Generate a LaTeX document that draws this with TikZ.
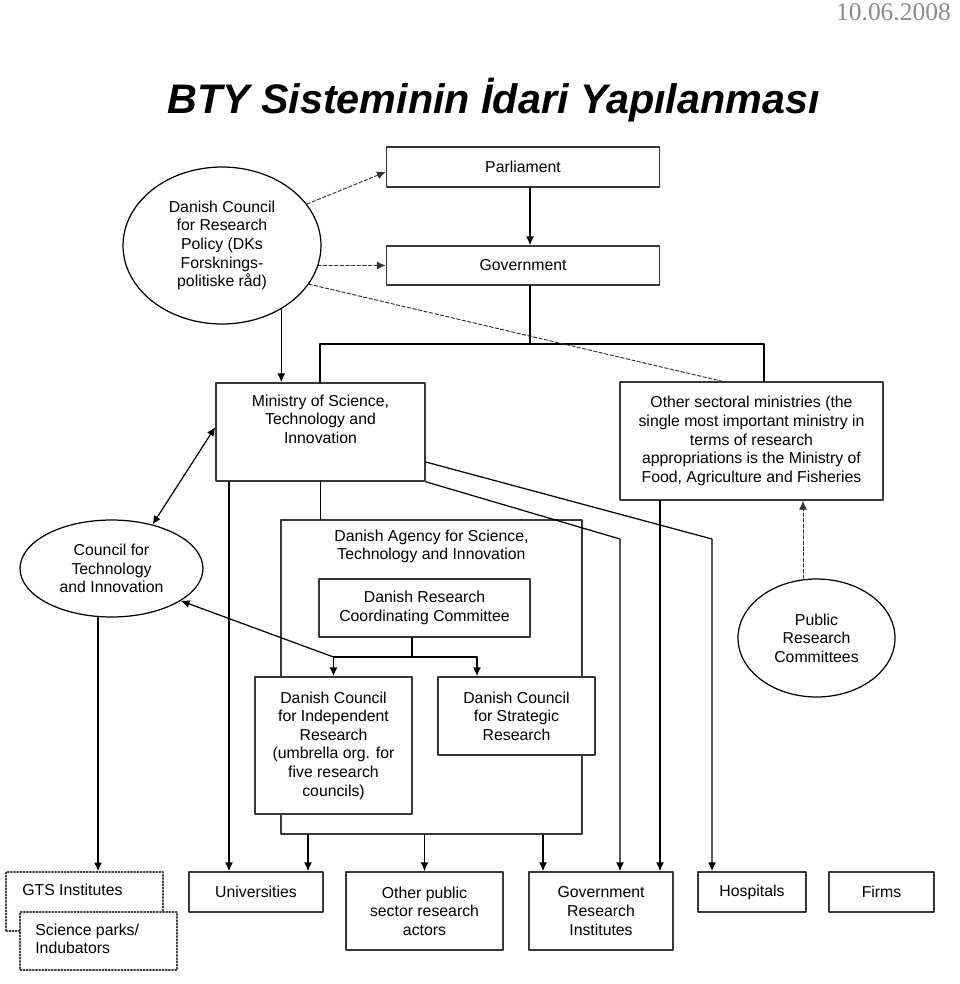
\documentclass[tikz,border=0pt]{standalone}
\usepackage{fontspec}
\setmainfont{Liberation Sans}
\newfontfamily\datefont{Liberation Serif}
\usetikzlibrary{arrows.meta,shapes.geometric,positioning}
\definecolor{boxline}{gray}{0.22}
\definecolor{dategray}{gray}{0.55}
\tikzset{
  box/.style={draw=boxline, line width=0.9pt, fill=white, inner sep=0pt, align=center,
    font=\fontsize{9}{10.6}\selectfont},
  dotbox/.style={box, draw=black!75, line width=0.8pt, densely dotted},
  oval/.style={ellipse, draw=black, line width=0.7pt, fill=white, inner sep=0pt, align=center,
    font=\fontsize{9}{10.6}\selectfont},
  txt/.style={inner sep=0pt, align=center, font=\fontsize{9}{10.6}\selectfont},
  link/.style={line width=0.7pt},
  arr/.style={link, -{Latex[length=5pt,width=4.5pt]}},
  back/.style={link, {Latex[length=5pt,width=4.5pt]}-},
  darr/.style={link, {Latex[length=5pt,width=4.5pt]}-{Latex[length=5pt,width=4.5pt]}},
  hint/.style={line width=0.55pt, dash pattern=on 2pt off 1.2pt, draw=black!80}
}
\begin{document}
\begin{tikzpicture}[x=0.02cm, y=-0.02cm, line cap=round, line join=round]
  \useasboundingbox (0,0) rectangle (960,984);
  \node[anchor=base west, font=\fontsize{23.5}{28}\selectfont\bfseries\itshape] (title) at (161,113)
    {BTY Sisteminin İdari Yapılanması};
  \node[anchor=base east, text=dategray, font=\datefont\fontsize{14.5}{16}\selectfont] (date) at (957,20) {10.06.2008};

  \node[box, minimum width=5.46cm, minimum height=0.8cm] (parl) at (523,167) {Parliament};
  \node[box, minimum width=5.46cm, minimum height=0.78cm] (gov) at (523,265.5) {Government};
  \node[oval, minimum width=3.96cm, minimum height=3.14cm] (dcrp) at (222,245.5)
    {Danish Council\\for Research\\Policy (DKs\\Forsknings-\\politiske råd)};
  \node[box, minimum width=4.18cm, minimum height=1.96cm] (min) at (320.5,432) {};
  \node[txt] (min-txt) at (320.5,419) {Ministry of Science,\\Technology and\\Innovation};
  \node[box, minimum width=5.26cm, minimum height=2.36cm] (oth) at (751.5,441)
    {Other sectoral ministries (the\\single most important ministry in\\terms of research\\appropriations is the Ministry of\\Food, Agriculture and Fisheries};
  \node[oval, minimum width=3.66cm, minimum height=1.94cm] (cti) at (111.5,568.5)
    {Council for\\Technology\\and Innovation};
  \node[oval, minimum width=3.14cm, minimum height=2.36cm] (prc) at (816.5,638)
    {Public\\Research\\Committees};

  \node[box, minimum width=6.02cm, minimum height=6.28cm] (agc) at (431.5,677) {};
  \node[txt] (agc-txt) at (431.5,546.5) {Danish Agency for Science,\\Technology and Innovation};
  \node[box, minimum width=4.22cm, minimum height=1.16cm] (drcc) at (424.5,608)
    {Danish Research\\Coordinating Committee};
  \node[box, minimum width=3.14cm, minimum height=2.74cm] (dcir) at (333.5,745.5)
    {Danish Council\\for Independent\\Research\\(umbrella org. for\\five research\\councils)};
  \node[box, minimum width=3.14cm, minimum height=1.56cm] (dcsr) at (516.5,716)
    {Danish Council\\for Strategic\\Research};

  \node[dotbox, minimum width=3.14cm, minimum height=1.18cm] (gts) at (84.5,901.5) {};
  \node[txt, anchor=west] (gts-txt) at (22,890) {GTS Institutes};
  \node[dotbox, minimum width=3.14cm, minimum height=1.16cm] (sci) at (98.5,941) {};
  \node[txt, anchor=west, align=left] (sci-txt) at (35,939) {Science parks/\\Indubators};
  \node[box, minimum width=2.68cm, minimum height=0.8cm] (uni) at (256,892) {Universities};
  \node[box, minimum width=3.14cm, minimum height=1.56cm] (opa) at (424.5,911)
    {Other public\\sector research\\actors};
  \node[box, minimum width=2.88cm, minimum height=1.56cm] (gri) at (601,911)
    {Government\\Research\\Institutes};
  \node[box, minimum width=2.16cm, minimum height=0.8cm] (hos) at (752,892) {Hospitals};
  \node[box, minimum width=2.1cm, minimum height=0.8cm] (firms) at (881.5,892) {Firms};

  \coordinate (gsplit) at (530,344);
  \coordinate (csplit) at (412,657);

  \draw[arr] (parl.south -| gsplit) -- (gov.north -| gsplit);
  \draw[link] (gov.south -| gsplit) -- (gsplit);
  \draw[link] (min.north -| 320,0) |- (gsplit) -| (oth.north -| 764,0);
  \draw[hint, -{Latex[length=5pt,width=4.5pt]}] (dcrp.26) -- ([yshift=-2.8pt]parl.west);
  \draw[hint, -{Latex[length=5pt,width=4.5pt]}] (dcrp.-13 |- gov.west) -- (gov.west);
  \draw[hint] (dcrp.-24) -- (oth.north -| 722,0);
  \draw[arr] (dcrp.-47) -- (dcrp.-47 |- min.north);

  \draw[darr] ([yshift=2.8pt]min.west) -- (cti.47);
  \draw[link] (min.south) -- (min.south |- agc.north);
  \draw[arr] (min.south -| 229,0) -- (uni.north -| 229,0);
  \draw[arr] (min.south east) -- (620,539) -- (gri.north -| 620,0);
  \draw[arr] (min.south east |- 0,462) -- (712,539) -- (hos.north -| 712,0);
  \draw[arr] (oth.south -| 660,0) -- (gri.north -| 660,0);
  \draw[hint, -{Latex[length=5pt,width=4.5pt]}] (prc.north -| 803,0) -- (oth.south -| 803,0);

  \draw[link] (drcc.south -| csplit) -- (csplit);
  \draw[arr] (csplit) -| (dcir.north);
  \draw[arr] (csplit) -| (dcsr.north -| 477,0);
  \draw[back] (cti.-25) -- (dcir.north |- csplit);

  \draw[arr] (cti.south -| 98,0) -- (gts.north -| 98,0);
  \draw[arr] (agc.south -| 308,0) -- (uni.north -| 308,0);
  \draw[arr] (agc.south -| opa.north) -- (opa.north);
  \draw[arr] (agc.south -| 543,0) -- (gri.north -| 543,0);
\end{tikzpicture}
\end{document}
